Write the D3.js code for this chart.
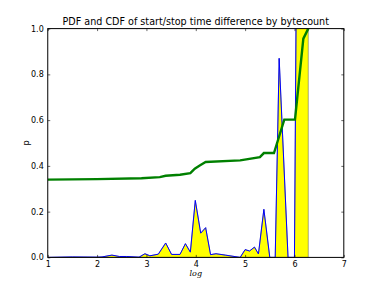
<!DOCTYPE html>
<html>
<head>
<meta charset="utf-8">
<script src="https://cdn.jsdelivr.net/npm/d3@7"></script>
<style>
  body { margin: 0; background: #fff; }
  text { font-family: "DejaVu Sans", sans-serif; }
</style>
</head>
<body>
<div id="chart"></div>
<script>
// PDF (log10 bytecount -> p)
const pdfX = [1.0, 1.5, 2.0, 2.1, 2.3, 2.45, 2.6, 2.85, 2.97, 3.07, 3.24, 3.39, 3.51, 3.68, 3.79, 3.89,
    3.99, 4.1, 4.2, 4.3, 4.41, 4.6, 4.9, 5.0, 5.09, 5.19, 5.27, 5.38, 5.5, 5.61, 5.69, 5.87, 6.0, 6.09, 6.18, 6.28];
const pdfY = [0.0, 0.002, 0.001, 0.002, 0.010, 0.004, 0.004, 0.001, 0.016, 0.007, 0.014, 0.063, 0.013, 0.013, 0.06, 0.023,
    0.249, 0.106, 0.13, 0.012, 0.016, 0.010, 0.0, 0.034, 0.028, 0.045, 0.015, 0.21, 0.0, 0.0, 0.87, 0.0, 0.0, 2.9, 3.5, 3.2];

// CDF
const cdfX = [1.0, 2.0, 2.9, 3.27, 3.39, 3.68, 3.89, 3.98, 4.08, 4.2, 4.9, 5.3, 5.38, 5.585, 5.794, 6.011, 6.18, 6.28];
const cdfY = [0.340, 0.342, 0.346, 0.351, 0.357, 0.361, 0.368, 0.388, 0.402, 0.417, 0.424, 0.438, 0.456, 0.456, 0.602, 0.602, 0.956, 1.0];

const xTicks = [1, 2, 3, 4, 5, 6, 7];
const yTicks = [0.0, 0.2, 0.4, 0.6, 0.8, 1.0];

const W = 382, H = 286;
const margin = {top: 28.6, right: 38.2, bottom: 28.6, left: 47.75},
    width = W - margin.left - margin.right,
    height = H - margin.top - margin.bottom;

const root = d3.select("#chart").append("svg")
    .attr("width", W)
    .attr("height", H);

const svg = root.append("g")
    .attr("transform", `translate(${margin.left},${margin.top})`);

const x = d3.scaleLinear().domain([1, 7]).range([0, width]);
const y = d3.scaleLinear().domain([0, 1]).range([height, 0]);

svg.append("clipPath").attr("id", "clip")
    .append("rect").attr("width", width).attr("height", height);

const plot = svg.append("g").attr("clip-path", "url(#clip)");

const pdf = pdfX.map((v, i) => ({x: v, y: pdfY[i]}));
const cdf = cdfX.map((v, i) => ({x: v, y: cdfY[i]}));

// yellow fill under the pdf
plot.append("path")
    .datum(pdf)
    .attr("fill", "#ffff00")
    .attr("stroke", "#555")
    .attr("stroke-width", 0.5)
    .attr("d", d3.area().x(d => x(d.x)).y0(y(0)).y1(d => y(d.y)));

plot.append("path")
    .datum(pdf)
    .attr("fill", "none")
    .attr("stroke", "#0000ff")
    .attr("stroke-width", 1)
    .attr("d", d3.line().x(d => x(d.x)).y(d => y(d.y)));

plot.append("path")
    .datum(cdf)
    .attr("fill", "none")
    .attr("stroke", "#008000")
    .attr("stroke-width", 2.4)
    .attr("d", d3.line().x(d => x(d.x)).y(d => y(d.y)));

// axes, ticks pointing inwards on all sides
const fmt = d3.format(".1f");
svg.append("g")
    .attr("transform", `translate(0,${height})`)
    .call(d3.axisBottom(x).tickValues(xTicks).tickFormat(d3.format("d")).tickSizeInner(-2.5).tickSizeOuter(0).tickPadding(4));
svg.append("g")
    .call(d3.axisTop(x).tickValues(xTicks).tickFormat("").tickSizeInner(-2.5).tickSizeOuter(0));
svg.append("g")
    .call(d3.axisLeft(y).tickValues(yTicks).tickFormat(fmt).tickSizeInner(-2.5).tickSizeOuter(0).tickPadding(4));
svg.append("g")
    .attr("transform", `translate(${width},0)`)
    .call(d3.axisRight(y).tickValues(yTicks).tickFormat("").tickSizeInner(-2.5).tickSizeOuter(0));

svg.selectAll(".domain").remove();
svg.selectAll(".tick line").attr("stroke", "#000").attr("stroke-width", 0.6);
svg.selectAll(".tick text").attr("font-size", 8).attr("font-family", "DejaVu Sans").attr("fill", "#000");

svg.append("rect")
    .attr("width", width)
    .attr("height", height)
    .attr("fill", "none")
    .attr("stroke", "#000")
    .attr("stroke-width", 1);

// title and labels
svg.append("text")
    .attr("x", width / 2)
    .attr("y", -4)
    .attr("text-anchor", "middle")
    .attr("font-size", 9.6)
    .text("PDF and CDF of start/stop time difference by bytecount");

svg.append("text")
    .attr("x", width / 2)
    .attr("y", height + 19)
    .attr("text-anchor", "middle")
    .attr("font-size", 8)
    .attr("font-style", "italic")
    .style("font-family", "'DejaVu Serif', serif")
    .text("log");

svg.append("text")
    .attr("transform", "rotate(-90)")
    .attr("x", -height / 2)
    .attr("y", -19)
    .attr("text-anchor", "middle")
    .attr("font-size", 8)
    .text("p");
</script>
</body>
</html>
